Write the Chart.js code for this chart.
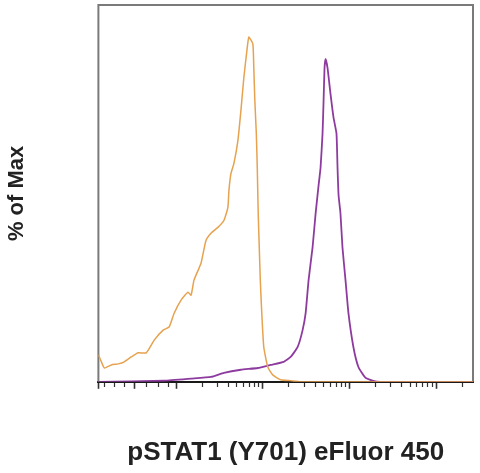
<!DOCTYPE html>
<html>
<head>
<meta charset="utf-8">
<script src="https://cdn.jsdelivr.net/npm/chart.js@4.4.1/dist/chart.umd.min.js"></script>
<style>
  html, body { margin: 0; padding: 0; background: #fff; }
  canvas { display: block; }
</style>
</head>
<body>
<canvas id="histo" width="480" height="473"></canvas>
<script>
// axis units: log10 of the fluorescence (biex-like left part compressed)
var xMin = 1.103, xMax = 5.425;
var yMax = 109.3;

// unstimulated (orange)
var orangeX = [1.103,1.137,1.172,1.252,1.333,1.402,1.482,1.563,1.655,1.747,1.850,1.919,1.977,2.057,2.137,
               2.172,2.206,2.287,2.344,2.402,2.482,2.551,2.597,2.609,2.632,2.666,2.712,2.747,2.781,2.816,
               2.839,2.885,2.896,2.908,2.925,2.936,2.947,2.959,2.971,2.988,3.011,3.057,3.114,3.206,3.321,
               3.436,5.425];
var orangeY = [7.8,5.8,4.0,4.9,5.2,5.8,7.2,8.4,8.4,12.1,15.0,15.9,19.9,23.7,26.0,
               25.1,29.5,34.4,41.0,43.1,44.8,46.8,50.6,55.5,60.4,63.3,69.9,78.6,88.2,96.0,
               100,98.0,91.0,81.5,72.0,62.1,48.8,39.0,29.5,19.9,10.1,4.3,2.0,0.6,0.3,
               0,0];

// stimulated (purple)
var purpleX = [1.103,1.862,2.172,2.402,2.551,2.747,2.942,3.091,3.241,3.321,3.402,3.459,3.494,3.528,3.574,
               3.609,3.643,3.666,3.689,3.701,3.712,3.724,3.747,3.781,3.816,3.850,3.862,3.874,3.896,3.919,
               3.954,3.988,4.045,4.103,4.183,4.275,4.356,5.425];
var purpleY = [0,0.3,0.9,1.4,2.6,3.5,4.0,4.9,5.8,7.2,10.1,15.0,19.9,29.5,39.0,
               48.8,56.9,62.1,72.0,81.5,91.0,93.7,91.0,83.5,76.6,72.0,62.1,54.1,48.8,39.0,
               29.5,19.9,10.1,4.3,1.2,0.3,0,0];

// tick marks (no labels in the original)
var majorTicks = [1.103, 1.517, 2, 3, 4, 5];
var linearTicks = [1.172, 1.287, 1.402, 1.655, 1.793, 1.908];
var minorTicks = [];
[2, 3, 4].forEach(function(d) {
    for (var k = 2; k <= 9; k++) minorTicks.push(d + Math.log10(k));
});
minorTicks.push(5 + Math.log10(2));

var allTicks = majorTicks.concat(linearTicks, minorTicks).sort(function(a, b) { return a - b; });

function toPoints(xs, ys) {
    return xs.map(function(x, i) { return {x: x, y: ys[i]}; });
}

function isMajor(v) {
    return majorTicks.some(function(m) { return Math.abs(m - v) < 1e-6; });
}

var frame = {
    id: 'frame',
    beforeDatasetsDraw: function(chart) {
        var a = chart.chartArea, ctx = chart.ctx;
        ctx.save();
        ctx.strokeStyle = '#7a7a7a';
        ctx.lineWidth = 2;
        ctx.beginPath();
        ctx.moveTo(a.left, a.bottom);
        ctx.lineTo(a.left, a.top);
        ctx.lineTo(a.right, a.top);
        ctx.lineTo(a.right, a.bottom);
        ctx.stroke();
        ctx.restore();
    }
};

var ctx = document.getElementById('histo').getContext('2d');

new Chart(ctx, {
    type: 'line',
    data: {
        datasets: [
            {
                label: 'unstimulated',
                data: toPoints(orangeX, orangeY),
                borderColor: '#e6a24f',
                borderWidth: 1.5,
                pointRadius: 0,
                tension: 0.15,
                fill: false
            },
            {
                label: 'stimulated',
                data: toPoints(purpleX, purpleY),
                borderColor: '#8e3b9f',
                borderWidth: 1.8,
                pointRadius: 0,
                tension: 0.15,
                fill: false
            }
        ]
    },
    options: {
        responsive: false,
        animation: false,
        layout: { padding: { top: 5, right: 7, left: 0, bottom: 0 } },
        plugins: {
            legend: { display: false },
            tooltip: { enabled: false }
        },
        scales: {
            x: {
                type: 'linear',
                min: xMin,
                max: xMax,
                z: 1,
                afterBuildTicks: function(scale) {
                    scale.ticks = allTicks.map(function(v) { return {value: v}; });
                },
                ticks: { display: false },
                grid: {
                    display: true,
                    drawOnChartArea: false,
                    drawTicks: true,
                    tickLength: 7,
                    tickColor: '#333',
                    tickWidth: function(c) { return c.tick && isMajor(c.tick.value) ? 1.6 : 1.2; },
                    tickBorderDash: function(c) { return c.tick && isMajor(c.tick.value) ? [] : [4, 20]; }
                },
                border: { display: true, color: '#1a1a1a', width: 2 },
                title: {
                    display: true,
                    text: 'pSTAT1 (Y701) eFluor 450',
                    color: '#222',
                    font: { family: 'Liberation Sans', size: 26, weight: 'bold' },
                    padding: { top: 48, bottom: 5 }
                }
            },
            y: {
                type: 'linear',
                min: 0,
                max: yMax,
                ticks: { display: false },
                grid: { display: false },
                border: { display: false },
                title: {
                    display: true,
                    text: '% of Max',
                    color: '#222',
                    font: { family: 'Liberation Sans', size: 22, weight: 'bold' },
                    padding: { top: 4, bottom: 60 }
                }
            }
        }
    },
    plugins: [frame]
});
</script>
</body>
</html>
